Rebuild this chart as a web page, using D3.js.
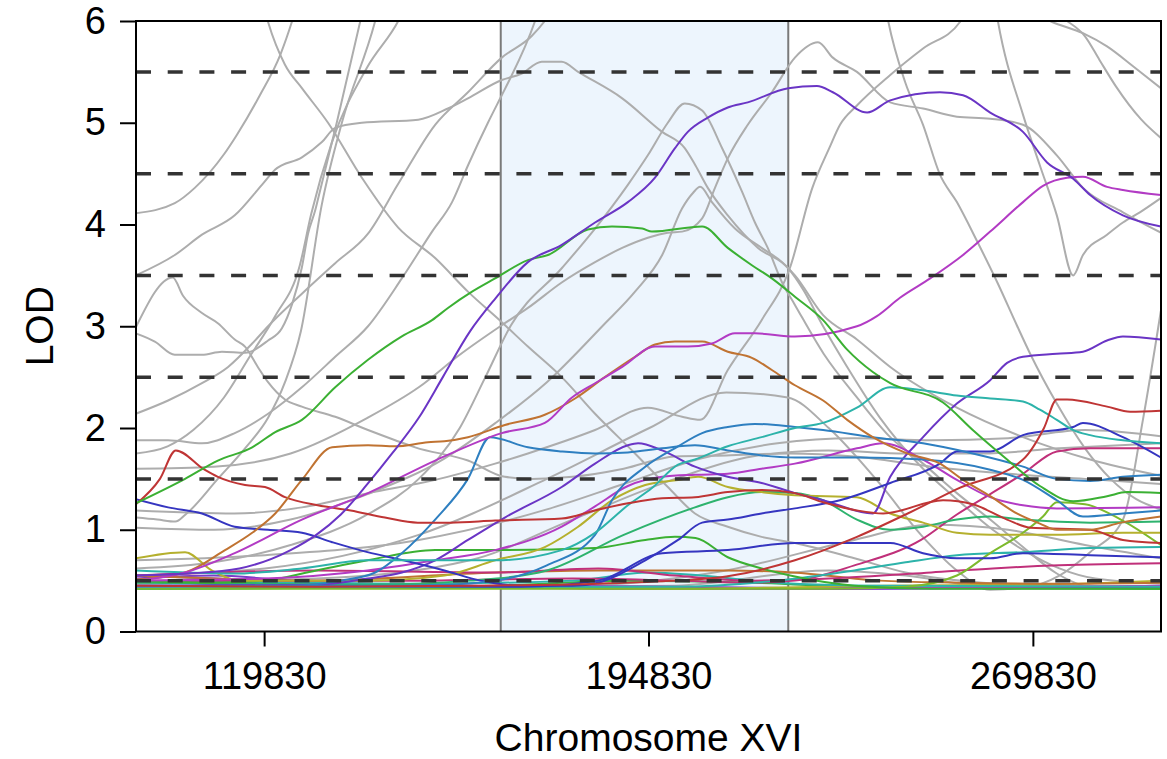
<!DOCTYPE html>
<html><head><meta charset="utf-8">
<script src="https://cdn.jsdelivr.net/npm/d3@7"></script>
<style>html,body{margin:0;padding:0;background:#fff}</style>
</head><body>
<svg id="chart" width="1167" height="759"></svg>
<script>
// ---- data (positions in kb, LOD values) ----
const xTicks = [119830, 194830, 269830];
const yTicks = [0, 1, 2, 3, 4, 5, 6];
const thresholds = [0.5, 1.5, 2.5, 3.5, 4.5, 5.5];
const region = [166.0, 222.1];

const gray01 = [[94.8,4.11],[102.4,4.21],[106.3,4.36],[112.0,4.69],[114.5,4.88],[119.0,5.27],[123.0,5.67],[125.3,6.0],[126.5,6.2]];
const gray02 = [[94.8,3.5],[102.4,3.7],[107.7,3.9],[114.1,4.09],[119.4,4.39],[122.0,4.54],[127.2,4.66],[131.1,4.81],[133.7,4.95],[138.9,5.0],[149.9,5.03],[155.7,5.14],[159.6,5.24],[166.2,5.42],[170.0,5.48],[174.0,5.6],[177.9,5.6],[181.1,5.5],[189.7,5.24],[197.5,4.91],[201.9,4.75],[204.0,4.58],[206.4,4.36],[210.3,4.09],[216.2,3.77],[222.1,3.57],[224.9,3.37],[228.9,3.0],[233.6,2.6],[240,2.1],[248.4,1.6],[255,1.3],[262,1.0],[268,0.8],[275,0.62],[282,0.52],[294.8,0.47]];
const gray03 = [[118.5,6.4],[120.6,5.99],[123.9,5.57],[127.2,5.34],[132.3,5.0],[138.9,4.46],[146.0,3.97],[153.2,3.67],[159.6,3.34],[166.2,3.04],[171.3,2.8],[177.9,2.5],[184.4,2.14],[192.2,1.75],[198.6,1.42],[203.9,1.16],[210.3,1.03],[216.9,0.93],[223.4,0.87],[235,0.72],[245,0.58],[260,0.48],[275,0.45],[294.8,0.44]];
const gray04 = [[94.8,2.99],[102.0,3.48],[104.0,3.3],[107.7,3.13],[110.8,3.03],[114.1,2.87],[116.1,2.8],[118.6,2.6],[120.6,2.45],[123.9,2.28],[127.2,2.21],[133.7,2.11],[140.1,1.98],[145.4,1.88],[149.3,1.81],[159.6,1.68],[166.8,1.52],[172,1.5],[180,1.52],[190,1.6],[200,1.72],[210,1.73],[222,1.75],[235,1.72],[250,1.62],[265,1.55],[280,1.5],[294.8,1.45]];
const gray05 = [[94.8,2.93],[98.5,2.85],[102.4,2.72],[107.7,2.72],[111.6,2.75],[116.1,2.74],[120.6,2.86],[123.3,2.98],[125.3,3.22],[127.2,3.58],[128.4,3.91],[129.8,4.14],[130.3,4.24],[134,5.0],[138.6,6.0],[139.5,6.2]];
const gray06 = [[94.8,2.14],[101.1,2.27],[107.7,2.44],[112.8,2.6],[117.5,2.83],[120.6,3.0],[127.2,3.32],[133.7,3.62],[140.1,3.91],[146,4.4],[153.2,4.98],[159.6,5.3],[166.2,5.64],[172,5.85],[174.6,6.0],[176,6.1]];
const gray07 = [[94.8,1.88],[101.1,1.88],[107.7,1.85],[114.1,1.95],[120.6,2.14],[127.2,2.4],[133.7,2.7],[140.1,3.0],[146.7,3.47],[152.6,3.93],[156.5,4.22],[159.6,4.58],[163.5,5.0],[166.2,5.27],[167.5,5.4],[172.7,6.0],[174,6.2]];
const gray08 = [[94.8,1.12],[99,1.1],[102.5,1.08],[104.5,1.15],[110.8,1.5],[116.1,1.8],[120.6,2.1],[123.9,2.45],[127,2.95],[131.1,4.2],[135,5.0],[141.5,6.0],[143,6.3]];
const gray09 = [[94.8,1.75],[101,1.82],[106,1.98],[112,2.3],[117,2.7],[122,3.1],[126.8,3.6],[129,4.1],[133,4.8],[140,5.55],[146,6.0],[147,6.1]];
const gray10 = [[94.8,0.62],[110,0.68],[125,0.85],[140,1.15],[150,1.5],[158,2.0],[163,2.5],[168,3.01],[177.9,3.57],[184.4,3.96],[190.8,4.39],[194.7,4.68],[198.6,5.0],[201.9,5.19],[205.3,5.12],[209.2,4.75],[213.1,4.32],[215.6,4.02],[218.1,3.77],[220.9,3.43],[223.4,3.21],[229,2.73],[235.5,2.3],[242,1.91],[248.4,1.65],[255,1.36],[261.5,1.1],[267.9,0.83],[274.5,0.57],[281,0.44],[294.8,0.42]];
const gray11 = [[94.8,1.02],[110,1.0],[125,1.1],[140,1.35],[155,1.7],[165,2.05],[175,2.45],[186,3.01],[192.2,3.34],[197.5,3.7],[201.4,4.16],[203.5,4.31],[204.9,4.37],[207.2,4.22],[211.7,3.96],[216.9,3.77],[220.9,3.63],[223.4,3.5],[228.9,3.11],[235.5,2.87],[242,2.6],[255,2.2],[267.9,1.91],[281,1.69],[294.8,1.53]];
const gray12 = [[94.8,1.6],[110,1.62],[125,1.75],[140,2.1],[150,2.4],[158,2.72],[166.2,3.01],[171.3,3.18],[177.9,3.43],[184.4,3.63],[189.7,3.77],[194.7,3.87],[198.6,3.92],[201.4,3.93],[205.3,4.06],[207.8,4.36],[210.3,4.65],[214.2,4.98],[218.9,5.3],[223.4,5.64],[227.9,5.79],[230.8,5.64],[235.5,5.5],[242,5.2],[248.4,5.14],[255,5.06],[261.5,5.04],[267.9,4.98],[274.5,4.68],[279.6,4.36],[287.4,4.12],[294.8,3.92]];
const gray13 = [[240.5,6.3],[241.6,6.0],[244.9,5.4],[248.4,4.98],[251.7,4.49],[255,4.22],[259,3.83],[262.9,3.43],[266.7,3.01],[269.3,2.73],[274.5,2.24],[280,1.8],[285,1.5],[290,1.3],[294.8,1.2]];
const gray14 = [[262,6.3],[263,6.0],[267.9,5.08],[271.2,4.58],[274.5,4.09],[277.7,3.5],[279.6,3.7],[284.3,3.9],[287.4,4.02],[290.7,4.12],[294.8,4.26]];
const gray15 = [[268,6.15],[273.2,6.0],[279.6,5.88],[284.3,5.75],[289.5,5.55],[294.8,5.34]];
const gray16 = [[270,6.15],[276.5,6.0],[280,5.85],[282.8,5.62],[286,5.36],[291,5.03],[294.8,4.85]];
const gray17 = [[94.8,1.19],[114,1.16],[127.2,1.22],[140.1,1.36],[153.2,1.49],[164.9,1.65],[171.3,1.75],[184.4,1.98],[194.7,2.2],[201.4,2.11],[204.9,2.08],[210.3,2.57],[216.9,3.06],[222.4,3.57],[226.8,4.36],[230.1,4.75],[232.2,4.98],[235.5,5.17],[242,5.47],[248.4,5.73],[255.6,5.99],[257,6.1]];
const gray18 = [[94.8,0.55],[120,0.62],[150,0.95],[175,1.5],[195,2.0],[210,2.35],[222,2.3],[230,2.0],[240,1.45],[248,0.95],[255,0.6],[261.5,0.41],[268,0.43],[275,0.55],[281,0.78],[287.4,1.1],[291.3,2.08],[294.8,3.15]];
const gray19 = [[94.8,0.7],[120,0.75],[150,0.9],[175,1.2],[190,1.45],[205,1.7],[220,1.85],[235,1.9],[250,1.88],[265,1.9],[280,1.98],[294.8,1.92]];
const gray20 = [[94.8,0.48],[130,0.52],[160,0.7],[180,1.1],[200,1.5],[215,1.72],[230,1.78],[245,1.75],[260,1.75],[275,1.8],[294.8,1.85]];
const gray21 = [[94.8,0.45],[150,0.43],[200,0.45],[230,0.6],[245,0.55],[260,0.45],[294.8,0.42]];
const gray22 = [[94.8,0.42],[180,0.45],[210,0.6],[235,0.9],[250,1.05],[265,1.0],[280,0.85],[294.8,0.72]];

const purple1 = [[94.8,0.55],[105,0.57],[115,0.62],[125,0.8],[130,0.95],[134.8,1.15],[140,1.45],[144.8,1.75],[150,2.1],[154.7,2.5],[160,2.95],[164.9,3.27],[171.3,3.63],[177.9,3.8],[184.4,4.02],[190.8,4.22],[196.1,4.46],[200,4.75],[202.5,4.91],[206.4,5.05],[210.3,5.15],[214.2,5.2],[222.1,5.34],[227.7,5.36],[230.8,5.3],[237.5,5.1],[242,5.22],[251.7,5.3],[256.2,5.27],[261.5,5.1],[267.9,4.91],[272.6,4.61],[277.7,4.45],[281,4.29],[287.4,4.09],[294.8,3.98]];
const green1 = [[94.8,1.26],[104.4,1.5],[110.8,1.68],[117.5,1.81],[122,1.96],[127.2,2.08],[133.7,2.4],[140.1,2.67],[146.7,2.9],[152.6,3.06],[155.7,3.18],[160.4,3.34],[164.9,3.47],[171.3,3.65],[175.2,3.7],[183.0,3.95],[187.7,3.98],[193.6,3.96],[195.5,3.93],[205.3,3.98],[210.3,3.77],[215,3.6],[218.9,3.47],[223.4,3.29],[228.9,3.06],[233.6,2.77],[238.6,2.55],[242,2.44],[252.3,2.25],[258.1,1.98],[264.8,1.69],[271.2,1.43],[277.7,1.28],[284.3,1.33],[288.2,1.37],[294.8,1.36]];
const magenta1 = [[94.8,0.5],[104.4,0.58],[114.1,0.77],[127.2,1.1],[140.1,1.36],[153.2,1.68],[166.2,1.95],[174.6,2.05],[179.9,2.3],[184.4,2.44],[189.7,2.6],[196.1,2.8],[202.5,2.8],[207.2,2.83],[211.7,2.93],[215.6,2.93],[223.4,2.9],[235.5,3.0],[239.4,3.1],[243.9,3.28],[249.8,3.47],[256.2,3.7],[261.5,3.93],[267.9,4.22],[271.8,4.38],[276.5,4.46],[279.6,4.47],[284.3,4.37],[287.4,4.34],[294.8,4.29]];
const orange1 = [[94.8,0.51],[104.4,0.58],[112.2,0.8],[117.5,0.97],[122,1.16],[127.2,1.49],[133.1,1.81],[140.1,1.83],[145.4,1.82],[151.8,1.86],[155,1.87],[159.6,1.91],[166.8,2.03],[174.6,2.13],[180.5,2.29],[186.3,2.5],[192.2,2.7],[196.1,2.82],[200,2.85],[205.3,2.85],[210.3,2.75],[215,2.69],[218.9,2.57],[223.4,2.42],[228.9,2.27],[233.6,2.08],[238.6,1.91],[245.3,1.75],[251.7,1.65],[256.2,1.49],[261.5,1.33],[266.7,1.16],[271.2,1.06],[274.5,1.0],[281,1.0],[287,1.07],[294.8,1.13]];
const red1 = [[94.8,1.25],[99.5,1.5],[102.6,1.78],[108.2,1.59],[110.8,1.52],[116.1,1.44],[120,1.42],[123.9,1.32],[130.3,1.24],[136.7,1.19],[143.4,1.12],[149.8,1.07],[156.2,1.07],[164.9,1.09],[177.9,1.11],[184.4,1.19],[190.8,1.26],[197.5,1.31],[203.9,1.32],[210.3,1.37],[216.9,1.39],[223.4,1.36],[228.9,1.27],[235.5,1.19],[240.6,1.16],[252.3,1.29],[258.1,1.25],[264.8,1.1],[269.3,1.02],[281,1.0],[287.4,0.9],[294.8,0.87]];
const red2 = [[94.8,0.45],[130,0.44],[160,0.45],[185,0.47],[200,0.5],[210,0.54],[223.4,0.7],[235.5,0.93],[245,1.15],[255,1.4],[267.9,1.69],[272,2.0],[274.5,2.28],[276.5,2.28],[284.3,2.21],[288.8,2.16],[294.8,2.17]];
const teal1 = [[94.8,0.6],[114.1,0.57],[127.2,0.62],[140.1,0.7],[164.9,0.7],[177.9,0.8],[184.4,0.97],[190.8,1.24],[195.5,1.41],[200.6,1.64],[203.9,1.69],[210.3,1.82],[216.9,1.91],[223.4,2.0],[228.9,2.05],[235.5,2.2],[242,2.4],[248.4,2.37],[255,2.32],[261.5,2.29],[267.9,2.26],[271.2,2.18],[274.5,2.08],[277.7,1.98],[281,1.93],[287.4,1.88],[294.8,1.85]];
const blue1 = [[94.8,0.44],[125,0.45],[134.8,0.5],[141.5,0.58],[146.7,0.77],[153.2,1.1],[159.6,1.5],[163.9,1.91],[171.3,1.81],[177.9,1.77],[184.4,1.75],[190.8,1.76],[197.5,1.8],[203.9,1.83],[210.3,1.78],[216.9,1.73],[223.4,1.71],[235.5,1.71],[248.4,1.69],[261.5,1.59],[267.9,1.49],[274.5,1.29],[279.6,1.13],[287.4,1.16],[294.8,1.19]];
const blue2 = [[94.8,0.45],[150,0.45],[164.9,0.5],[175,0.65],[184.4,0.95],[187.7,1.29],[194.2,1.62],[200.6,1.82],[205.3,1.95],[210.3,2.01],[215.6,2.04],[223.4,2.01],[228.9,1.98],[238.6,1.91],[248.4,1.85],[258.1,1.75],[267.9,1.62],[274.5,1.5],[281,1.48],[287.4,1.52],[294.8,1.54]];
const navy1 = [[94.8,1.3],[101.1,1.22],[107.7,1.16],[114.1,1.03],[120.6,1.0],[127.2,0.97],[133,0.88],[140,0.78],[147,0.7],[155,0.6],[162,0.5],[170,0.45],[180,0.45],[185,0.48],[194.2,0.7],[200.6,0.9],[205.3,1.07],[210.3,1.1],[216.9,1.16],[223.4,1.21],[232.2,1.29],[242,1.46],[251.7,1.65],[255,1.77],[261.5,1.77],[267.9,1.93],[277.7,2.01],[279.6,2.05],[287.4,1.91],[294.8,1.71]];
const navy2 = [[94.8,0.45],[170,0.44],[185,0.5],[197.5,0.77],[210.3,0.8],[223.4,0.87],[235,0.87],[242,0.87],[248.4,0.77],[255,0.72],[261.5,0.72],[267.9,0.77],[281,0.75],[294.8,0.73]];
const purple2 = [[94.8,0.45],[130,0.46],[140,0.52],[146.7,0.58],[153.2,0.7],[159.6,0.9],[166.8,1.12],[177.9,1.42],[184.4,1.65],[190.8,1.83],[192.8,1.85],[197.5,1.78],[203.9,1.62],[210.3,1.52],[216.9,1.46],[223.4,1.36],[228.9,1.29],[238.6,1.16],[242,1.52],[248.4,1.91],[255,2.24],[261.5,2.47],[264.8,2.64],[267.9,2.7],[274.5,2.73],[279.6,2.75],[284.3,2.86],[287.4,2.9],[294.8,2.87]];
const magenta2 = [[94.8,0.5],[120,0.52],[140,0.6],[153.2,0.7],[164.9,0.8],[177.9,1.03],[184.4,1.23],[190.8,1.43],[197.5,1.52],[203.9,1.54],[210.3,1.55],[216.9,1.6],[223.4,1.65],[235.5,1.8],[240.6,1.85],[248.4,1.69],[255,1.49],[261.5,1.32],[267.9,1.24],[274.5,1.21],[294.8,1.22]];
const olive1 = [[94.8,0.72],[104.4,0.78],[109.6,0.6],[115,0.5],[140,0.5],[155,0.55],[164.9,0.7],[174.6,0.83],[181.1,1.03],[187.7,1.29],[194.2,1.44],[200.6,1.49],[204.5,1.52],[210.3,1.42],[216.9,1.37],[223.4,1.34],[235.5,1.32],[242,1.16],[248.4,1.07],[255,0.97],[261.5,0.95],[274.5,0.95],[287.4,0.97],[294.8,0.97]];
const green2 = [[94.8,0.5],[110,0.48],[120,0.5],[130,0.6],[140,0.7],[153.2,0.8],[164.9,0.8],[184.4,0.82],[194.2,0.9],[200,0.93],[204,0.92],[210.3,0.73],[216.9,0.62],[223.4,0.54],[235,0.45],[250,0.42],[294.8,0.42]];
const seagreen1 = [[94.8,0.48],[140,0.46],[160,0.5],[175,0.6],[190,0.95],[203.9,1.22],[210.3,1.32],[216.9,1.37],[223.4,1.36],[228.9,1.29],[235.5,1.1],[242,1.0],[248.4,1.03],[255,1.1],[261.5,1.13],[267.9,1.1],[281,1.07],[294.8,1.08]];
const lime1 = [[94.8,0.42],[230,0.42],[245,0.44],[255,0.55],[261.5,0.77],[267.9,0.97],[271.8,1.13],[274.5,1.27],[280,1.25],[287,1.1],[294.8,0.85]];
const teal2 = [[94.8,0.42],[200,0.44],[220,0.5],[235,0.6],[245,0.68],[255,0.75],[267.9,0.78],[281,0.82],[294.8,0.83]];
const crimson1 = [[94.8,0.5],[150,0.5],[180,0.52],[200,0.5],[215,0.48],[223.4,0.5],[235,0.65],[248,0.9],[255,1.15],[261.5,1.35],[267.9,1.55],[274.5,1.77],[281,1.8],[294.8,1.8]];
const crimson2 = [[94.8,0.55],[130,0.6],[165,0.58],[185,0.62],[200,0.55],[215,0.5],[230,0.52],[250,0.58],[262,0.62],[275,0.65],[294.8,0.67]];
const orange2 = [[94.8,0.55],[130,0.5],[165,0.58],[185,0.6],[195,0.6],[210,0.6],[223,0.58],[240,0.5],[255,0.48],[275,0.47],[294.8,0.48]];
const teal3 = [[94.8,0.5],[150,0.47],[180,0.5],[195,0.58],[205,0.55],[220,0.48],[240,0.45],[294.8,0.44]];
const olive2 = [[94.8,0.45],[200,0.42],[240,0.45],[270,0.46],[294.8,0.5]];
const magenta3 = [[94.8,0.5],[120,0.45],[150,0.43],[200,0.42],[250,0.43],[294.8,0.45]];
const purple3 = [[94.8,0.52],[110,0.55],[130,0.48],[160,0.45],[200,0.44],[240,0.42],[294.8,0.43]];
const blue3 = [[94.8,0.55],[110,0.52],[130,0.48],[160,0.45],[190,0.42],[230,0.42],[294.8,0.44]];
const green3 = [[94.8,0.42],[130,0.43],[165,0.45],[190,0.5],[215,0.48],[240,0.43],[294.8,0.42]];

const grayLines = [gray01,gray02,gray03,gray04,gray05,gray06,gray07,gray08,gray09,gray10,gray11,gray12,gray13,gray14,gray15,gray16,gray17,gray18,gray19,gray20,gray21,gray22];
const colorLines = [green3,blue3,purple3,magenta3,olive2,teal3,orange2,crimson2,crimson1,teal2,lime1,seagreen1,green2,olive1,magenta2,purple2,navy2,navy1,blue2,blue1,teal1,red2,red1,orange1,magenta1,green1,purple1];
const colorPalette = ["#3bb043","#3b3bc4","#7a3cc8","#b43cc4","#b5b02e","#2db3aa","#c07332","#c0307a","#c0307a","#2db3aa","#7dba2d","#2eb36e","#3bb033","#b5b02e","#b23bc4","#6a35c5","#3535c0","#3535c0","#2e7fc0","#2e7fc0","#2db3aa","#bf3535","#bf3535","#c07332","#b23bc4","#3bb033","#6a35c5"];

// ---- drawing ----
const svg = d3.select("#chart");
const L = 136, R = 1161, T = 21, B = 631.5;
const x = d3.scaleLinear().domain([94830, 294830]).range([L, R]);
const y = d3.scaleLinear().domain([0, 6]).range([B, T]);

svg.append("defs").append("clipPath").attr("id","clip")
  .append("rect").attr("x",L).attr("y",T).attr("width",R-L).attr("height",B-T);

// highlighted region
svg.append("rect")
  .attr("x", x(region[0]*1000)).attr("y", T)
  .attr("width", x(region[1]*1000) - x(region[0]*1000)).attr("height", B - T)
  .attr("fill", "#edf5fd");
region.forEach(r => svg.append("line")
  .attr("x1", x(r*1000)).attr("x2", x(r*1000)).attr("y1", T).attr("y2", B)
  .attr("stroke", "#7a7a7a").attr("stroke-width", 2));

const line = d3.line().x(d => x(d[0]*1000)).y(d => y(d[1])).curve(d3.curveMonotoneX);
const g = svg.append("g").attr("clip-path","url(#clip)");
grayLines.forEach(s => g.append("path").attr("d", line(s))
  .attr("fill","none").attr("stroke","#adadad").attr("stroke-width",2));
colorLines.forEach((s,i) => g.append("path").attr("d", line(s))
  .attr("fill","none").attr("stroke",colorPalette[i]).attr("stroke-width",2));

// thresholds
thresholds.forEach(t => svg.append("line")
  .attr("x1", L).attr("x2", R).attr("y1", y(t)).attr("y2", y(t))
  .attr("stroke","#333").attr("stroke-width",3.5).attr("stroke-dasharray","15,16.7"));

// frame
svg.append("rect").attr("x",L).attr("y",T).attr("width",R-L).attr("height",B-T)
  .attr("fill","none").attr("stroke","#000").attr("stroke-width",2);

// axes
const font = "Liberation Sans, Arial, sans-serif";
const yAxis = svg.append("g").attr("transform",`translate(${L},0)`)
  .call(d3.axisLeft(y).tickValues(yTicks).tickSize(16).tickPadding(14).tickFormat(d3.format("d")));
const xAxis = svg.append("g").attr("transform",`translate(0,${B})`)
  .call(d3.axisBottom(x).tickValues(xTicks).tickSize(15).tickPadding(16).tickFormat(d3.format("d")));
[yAxis, xAxis].forEach(a => {
  a.select(".domain").remove();
  a.selectAll("line").attr("stroke","#000").attr("stroke-width",2);
  a.selectAll("text").attr("font-family",font).attr("font-size",38).attr("fill","#000");
});

svg.append("text").attr("x",(L+R)/2).attr("y",751).attr("text-anchor","middle")
  .attr("font-family",font).attr("font-size",39).text("Chromosome XVI");
svg.append("text").attr("transform",`translate(53,${(T+B)/2}) rotate(-90)`).attr("text-anchor","middle")
  .attr("font-family",font).attr("font-size",39).text("LOD");
</script>
</body></html>
